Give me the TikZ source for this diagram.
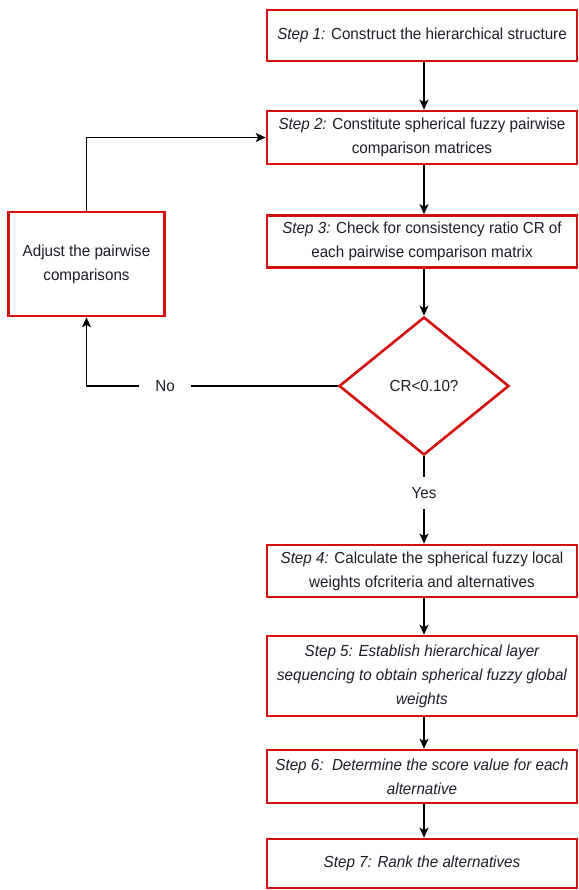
\documentclass[tikz,border=0pt]{standalone}
\usepackage{fontspec}
\setmainfont[FakeStretch=0.95]{Liberation Sans}
\usetikzlibrary{shapes.geometric,arrows.meta}
\definecolor{boxred}{RGB}{212,16,16}
\definecolor{txt}{RGB}{30,30,40}
\tikzset{
  basefont/.style={font=\fontsize{16pt}{24pt}\selectfont},
  stepbox/.style={draw=boxred, line width=2.6pt, fill=white, rectangle, align=center,
    minimum width=310pt, text=txt, basefont, inner sep=0pt},
  decbox/.style={draw=boxred, line width=2.6pt, fill=white, diamond, aspect=1.23,
    minimum width=170pt, minimum height=138pt, inner sep=0pt, text=txt, basefont},
  lbl/.style={text=txt, basefont, inner xsep=16pt, inner ysep=10pt},
  conn/.style={line width=1.5pt, -{Stealth[length=10pt,width=9pt,inset=2.5pt]}},
  plain/.style={line width=1.5pt},
}
\begin{document}
\begin{tikzpicture}[x=1pt,y=-1pt]
\useasboundingbox (0,0) rectangle (578,890);
\node[stepbox, minimum height=51pt] (s1) at (422,35.5) {\textit{Step 1:} Construct the hierarchical structure};
\node[stepbox, minimum height=53pt] (s2) at (422,137.5) {\textit{Step 2:} Constitute spherical fuzzy pairwise\\comparison matrices};
\node[stepbox, minimum height=52pt] (s3) at (422,241.5) {\textit{Step 3:} Check for consistency ratio CR of\\each pairwise comparison matrix};
\node[decbox] (d) at (424,386) {CR<0.10?};
\node[stepbox, minimum width=156pt, minimum height=104pt] (adj) at (86.5,264) {Adjust the pairwise\\comparisons};
\node[lbl] (no) at (165,386) {No};
\node[lbl] (yes) at (424,493) {Yes};
\node[stepbox, minimum height=52pt] (s4) at (422,571) {\textit{Step 4:} Calculate the spherical fuzzy local\\weights ofcriteria and alternatives};
\node[stepbox, minimum height=80pt] (s5) at (422,676) {\itshape Step 5: Establish hierarchical layer\\\itshape sequencing to obtain spherical fuzzy global\\\itshape weights};
\node[stepbox, minimum height=53pt] (s6) at (422,776.5) {\itshape Step 6:\ \ Determine the score value for each\\\itshape alternative};
\node[stepbox, minimum height=49pt] (s7) at (422,863.5) {\itshape Step 7: Rank the alternatives};

\coordinate (a1) at (adj.north |- s2.west);
\coordinate (a2) at (adj.south |- d.west);

\draw[conn] (s1.south -| 424,0) -- (s2.north -| 424,0);
\draw[conn] (s2.south -| 424,0) -- (s3.north -| 424,0);
\draw[conn] (s3.south -| 424,0) -- (d.north);
\draw[plain] (d.south) -- (yes.north);
\draw[conn] (yes.south) -- (s4.north -| 424,0);
\draw[conn] (s4.south -| 424,0) -- (s5.north -| 424,0);
\draw[conn] (s5.south -| 424,0) -- (s6.north -| 424,0);
\draw[conn] (s6.south -| 424,0) -- (s7.north -| 424,0);
\draw[plain] (d.west) -- (no.east);
\draw[conn] (no.west) -- (a2) -- (adj.south);
\draw[conn] (adj.north) -- (a1) -- (s2.west);
\end{tikzpicture}
\end{document}
